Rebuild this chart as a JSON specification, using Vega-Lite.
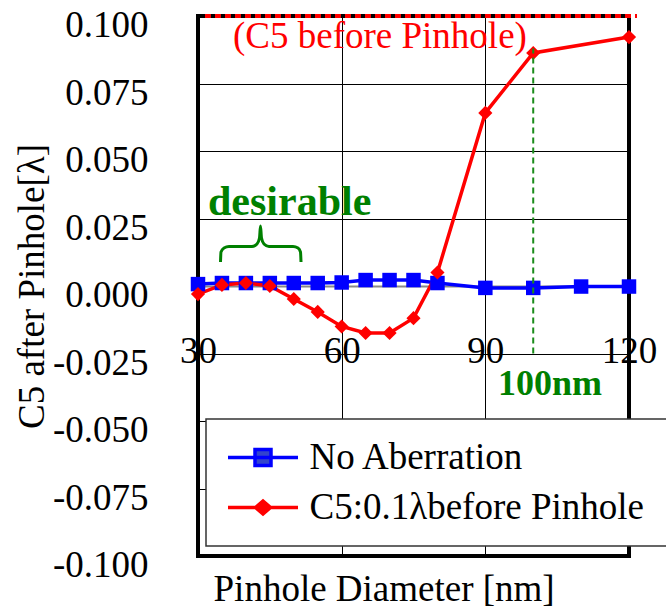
{
  "$schema": "https://vega.github.io/schema/vega-lite/v6.json",
  "width": 431,
  "height": 540,
  "autosize": "none",
  "padding": {"left": 198, "top": 16, "right": 37, "bottom": 53},
  "background": "white",
  "config": {
    "font": "Liberation Serif, Times New Roman, DejaVu Serif, serif",
    "view": {"stroke": "black", "strokeWidth": 4},
    "text": {"font": "Liberation Serif, Times New Roman, DejaVu Serif, serif"},
    "axis": {
      "labelFont": "Liberation Serif, Times New Roman, DejaVu Serif, serif", "titleFont": "Liberation Serif, Times New Roman, DejaVu Serif, serif",
      "labelColor": "black", "titleColor": "black",
      "labelFontSize": 37, "titleFontSize": 37, "titleFontWeight": "normal",
      "domain": false, "ticks": false, "tickSize": 0,
      "gridColor": "black", "gridOpacity": 1, "gridWidth": 1
    },
    "legend": {"labelFont": "Liberation Serif, Times New Roman, DejaVu Serif, serif"}
  },
  "datasets": {
    "series": [
      {"x": 30, "y": 0.0007, "s": "No Aberration"},
      {"x": 35, "y": 0.0011, "s": "No Aberration"},
      {"x": 40, "y": 0.0011, "s": "No Aberration"},
      {"x": 45, "y": 0.0011, "s": "No Aberration"},
      {"x": 50, "y": 0.0011, "s": "No Aberration"},
      {"x": 55, "y": 0.0011, "s": "No Aberration"},
      {"x": 60, "y": 0.0013, "s": "No Aberration"},
      {"x": 65, "y": 0.0022, "s": "No Aberration"},
      {"x": 70, "y": 0.0022, "s": "No Aberration"},
      {"x": 75, "y": 0.0022, "s": "No Aberration"},
      {"x": 80, "y": 0.0011, "s": "No Aberration"},
      {"x": 90, "y": -0.0007, "s": "No Aberration"},
      {"x": 100, "y": -0.0007, "s": "No Aberration"},
      {"x": 110, "y": -0.0002, "s": "No Aberration"},
      {"x": 120, "y": -0.0002, "s": "No Aberration"},
      {"x": 30, "y": -0.003, "s": "C5:0.1λbefore Pinhole"},
      {"x": 35, "y": 0.0004, "s": "C5:0.1λbefore Pinhole"},
      {"x": 40, "y": 0.0011, "s": "C5:0.1λbefore Pinhole"},
      {"x": 45, "y": 0.0, "s": "C5:0.1λbefore Pinhole"},
      {"x": 50, "y": -0.0048, "s": "C5:0.1λbefore Pinhole"},
      {"x": 55, "y": -0.0096, "s": "C5:0.1λbefore Pinhole"},
      {"x": 60, "y": -0.015, "s": "C5:0.1λbefore Pinhole"},
      {"x": 65, "y": -0.0174, "s": "C5:0.1λbefore Pinhole"},
      {"x": 70, "y": -0.0174, "s": "C5:0.1λbefore Pinhole"},
      {"x": 75, "y": -0.0119, "s": "C5:0.1λbefore Pinhole"},
      {"x": 80, "y": 0.005, "s": "C5:0.1λbefore Pinhole"},
      {"x": 90, "y": 0.0641, "s": "C5:0.1λbefore Pinhole"},
      {"x": 100, "y": 0.0863, "s": "C5:0.1λbefore Pinhole"},
      {"x": 120, "y": 0.0922, "s": "C5:0.1λbefore Pinhole"}
    ],
    "brace": [
      {"i": 1, "x": 34.70, "y": 0.00889},
      {"i": 2, "x": 34.80, "y": 0.01259},
      {"i": 3, "x": 35.43, "y": 0.01407},
      {"i": 4, "x": 36.47, "y": 0.01463},
      {"i": 5, "x": 41.27, "y": 0.01463},
      {"i": 6, "x": 42.32, "y": 0.01556},
      {"i": 7, "x": 42.84, "y": 0.01778},
      {"i": 8, "x": 43.05, "y": 0.02222},
      {"i": 9, "x": 43.26, "y": 0.01778},
      {"i": 10, "x": 43.78, "y": 0.01556},
      {"i": 11, "x": 44.82, "y": 0.01463},
      {"i": 12, "x": 49.84, "y": 0.01463},
      {"i": 13, "x": 50.88, "y": 0.01407},
      {"i": 14, "x": 51.40, "y": 0.01259},
      {"i": 15, "x": 51.51, "y": 0.00889}
    ],
    "dash100": [{"x": 100, "y": -0.025}, {"x": 100, "y": 0.088}],
    "top": [{"x": 31.46, "y": 0.1}, {"x": 121.67, "y": 0.1}]
  },
  "encoding": {
    "x": {
      "field": "x", "type": "quantitative",
      "scale": {"domain": [30, 120], "nice": false, "zero": false},
      "axis": {
        "values": [30, 60, 90, 120], "format": "d",
        "labelPadding": -194, "labelBaseline": "alphabetic",
        "labelFlush": false, "labelOverlap": false,
        "title": "Pinhole Diameter [nm]",
        "titleX": 185.6, "titleY": 44, "titleBaseline": "alphabetic"
      }
    },
    "y": {
      "field": "y", "type": "quantitative",
      "scale": {"domain": [-0.1, 0.1], "nice": false, "zero": false},
      "axis": {
        "values": [-0.1, -0.075, -0.05, -0.025, 0, 0.025, 0.05, 0.075, 0.1],
        "labelExpr": "(datum.value < -0.00001 ? '-' : '') + format(abs(datum.value), '.3f')",
        "labelPadding": 50, "labelBaseline": "middle", "labelOffset": 9.5,
        "labelFlush": false, "labelOverlap": false,
        "gridColor": {"condition": {"test": "datum.value === 0", "value": "#888888"}, "value": "black"},
        "gridWidth": {"condition": {"test": "datum.value === 0", "value": 2}, "value": 1},
        "title": "C5 after Pinhole[λ]",
        "titleX": -155, "titleY": 270, "titleBaseline": "alphabetic", "titleAngle": -90, "titleAlign": "center"
      }
    }
  },
  "layer": [
    {
      "data": {"name": "series"},
      "mark": {"type": "line", "strokeWidth": 3.5},
      "encoding": {
        "color": {
          "field": "s", "type": "nominal",
          "scale": {"domain": ["No Aberration", "C5:0.1λbefore Pinhole"], "range": ["#0000ff", "#ff0000"]},
          "legend": {
            "orient": "none", "legendX": 8, "legendY": 403,
            "title": ".", "titleOrient": "right", "titleColor": "white", "titleFontSize": 20, "titlePadding": 2,
            "padding": 20,
            "fillColor": "white", "strokeColor": "#333333",
            "labelFontSize": 37, "labelColor": "black",
            "labelLimit": 1000,
            "symbolSize": 400, "symbolOffset": 18.5, "labelOffset": 28, "rowPadding": 12,
            "symbolStrokeWidth": 3.5,
            "encode": {
              "legend": {"update": {"strokeWidth": {"value": 1.5}}},
              "symbols": {"update": {
                "shape": {"signal": "datum.value === 'No Aberration' ? 'M-3.5,0H3.5M-0.8,-0.8H0.8V0.8H-0.8Z' : 'M-3.5,0H3.5M-0.75,0L0,-0.65L0.75,0L0,0.65Z'"},
                "fill": {"signal": "datum.value === 'No Aberration' ? '#3344cc' : '#ff0000'"},
                "stroke": {"signal": "datum.value === 'No Aberration' ? '#0000ff' : '#ff0000'"},
                "strokeWidth": {"value": 3.5},
                "size": {"value": 400},
                "opacity": {"value": 1}
              }}
            }
          }
        }
      }
    },
    {
      "data": {"name": "series"},
      "transform": [{"filter": "datum.s === 'No Aberration'"}],
      "mark": {"type": "point", "shape": "square", "filled": true, "opacity": 1, "size": 210, "color": "#0000ff"},
      "encoding": {}
    },
    {
      "data": {"name": "series"},
      "transform": [{"filter": "datum.s !== 'No Aberration'"}],
      "mark": {"type": "point", "shape": "diamond", "filled": true, "opacity": 1, "size": 200, "color": "#ff0000"},
      "encoding": {}
    },
    {
      "data": {"name": "brace"},
      "mark": {"type": "line", "color": "#008000", "strokeWidth": 3, "interpolate": "monotone"},
      "encoding": {"order": {"field": "i", "type": "quantitative"}}
    },
    {
      "data": {"name": "dash100"},
      "mark": {"type": "line", "color": "#1a8c1a", "strokeWidth": 2, "strokeDash": [6, 4]},
      "encoding": {}
    },
    {
      "data": {"name": "top"},
      "mark": {"type": "line", "color": "#ff0000", "strokeWidth": 4, "strokeDash": [6, 4], "clip": false},
      "encoding": {}
    },
    {
      "data": {"values": [{"x": 37.31, "y": 0.0881, "t": "(C5 before Pinhole)"}]},
      "mark": {"type": "text", "fontSize": 37, "color": "#ff0000", "align": "left", "baseline": "alphabetic"},
      "encoding": {"text": {"field": "t"}}
    },
    {
      "data": {"values": [{"x": 32.09, "y": 0.0263, "t": "desirable"}]},
      "mark": {"type": "text", "fontSize": 42, "fontWeight": "bold", "color": "#008000", "align": "left", "baseline": "alphabetic"},
      "encoding": {"text": {"field": "t"}}
    },
    {
      "data": {"values": [{"x": 92.64, "y": -0.0404, "t": "100nm"}]},
      "mark": {"type": "text", "fontSize": 36, "fontWeight": "bold", "color": "#008000", "align": "left", "baseline": "alphabetic"},
      "encoding": {"text": {"field": "t"}}
    }
  ]
}
